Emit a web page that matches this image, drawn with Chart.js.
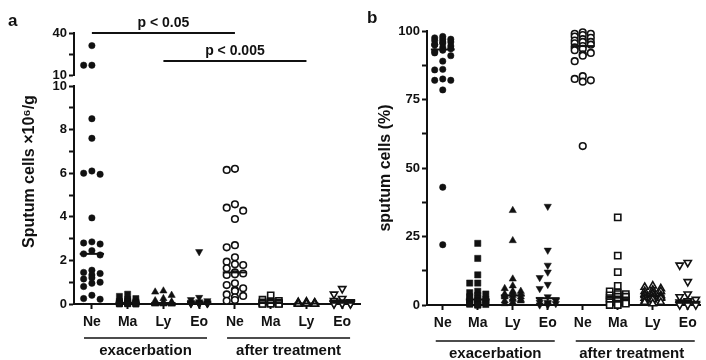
<!DOCTYPE html>
<html><head><meta charset="utf-8">
<script src="https://cdn.jsdelivr.net/npm/chart.js@4.4.1/dist/chart.umd.min.js"></script>
<style>
html,body{margin:0;padding:0;background:#fff;width:706px;height:360px;overflow:hidden}
#ca{position:absolute;left:0;top:0}
#cb{position:absolute;left:366px;top:0}
</style></head><body>
<canvas id="ca" width="366" height="360"></canvas>
<canvas id="cb" width="340" height="360"></canvas>
<script>
// ---------- data ----------
const CATEGORIES = ['Ne','Ma','Ly','Eo','Ne','Ma','Ly','Eo'];
const GROUPS = ['exacerbation','after treatment'];
const A_TICKS_LOW = [0,2,4,6,8,10];
const A_TICKS_HIGH = [10,40];
const B_TICKS = [0,25,50,75,100];
const TITLE_A = 'Sputum cells \u00d710\u2076/g';
const TITLE_B = 'sputum cells (%)';
const BRACKETS_A = [
  {from:0, to:4, text:'p < 0.05', level:40},
  {from:2, to:6, text:'p < 0.005', level:20}
];

// Panel a: sputum cells x10^6/g
const A_NE_EXAC  = [31, 17, 17, 8.5, 7.6, 6.1, 6.0, 5.95, 3.95, 2.85, 2.8, 2.75, 2.45, 2.3, 2.25, 1.55, 1.45, 1.4, 1.33, 1.2, 1.15, 1.0, 0.95, 0.8, 0.4, 0.25, 0.22];
const A_MA_EXAC  = [0.45, 0.35, 0.25, 0.2, 0.15, 0.12, 0.1, 0.1, 0.08, 0.06, 0.05, 0.05, 0.04, 0.03, 0.02, 0.02, 0.01, 0.01, 0, 0];
const A_LY_EXAC  = [0.6, 0.55, 0.4, 0.25, 0.15, 0.1, 0.08, 0.06, 0.05, 0.04, 0.03, 0.03, 0.02, 0.02, 0.01, 0.01, 0, 0];
const A_EO_EXAC  = [2.4, 0.3, 0.2, 0.15, 0.1, 0.08, 0.06, 0.05, 0.04, 0.03, 0.02, 0.02, 0.01, 0.01, 0, 0, 0];
const A_NE_AFTER = [6.2, 6.15, 4.57, 4.42, 4.28, 3.9, 2.7, 2.6, 2.14, 1.94, 1.82, 1.79, 1.64, 1.45, 1.4, 1.36, 1.33, 0.95, 0.87, 0.72, 0.64, 0.6, 0.44, 0.37, 0.31, 0.18, 0.15];
const A_MA_AFTER = [0.4, 0.2, 0.15, 0.12, 0.1, 0.08, 0.06, 0.05, 0.04, 0.03, 0.02, 0.02, 0.01, 0.01, 0, 0];
const A_LY_AFTER = [0.1, 0.08, 0.06, 0.05, 0.04, 0.03, 0.02, 0.02, 0.01, 0.01, 0, 0];
const A_EO_AFTER = [0.7, 0.45, 0.25, 0.15, 0.1, 0.08, 0.06, 0.05, 0.04, 0.03, 0.02, 0.01, 0, 0];

// Panel b: sputum cells (%)
const B_NE_EXAC  = [98, 97.5, 97, 97, 96.5, 96, 96, 95.5, 95, 95, 94.5, 94, 93.5, 93, 92.5, 92, 91, 89, 86, 85.8, 82.5, 82, 82, 78.5, 43, 22];
const B_MA_EXAC  = [22.5, 17, 11, 8, 8, 5, 4.5, 4, 3.5, 3, 2.5, 2, 2, 1.5, 1.5, 1, 1, 0.8, 0.5, 0.5, 0.3, 0.2, 0, 0];
const B_LY_EXAC  = [34.5, 23.5, 9.5, 7, 6, 5, 5, 4.5, 4, 4, 3.5, 3.5, 3, 3, 2.5, 2, 2, 1.5, 1.5, 1, 0.5];
const B_EO_EXAC  = [36, 20, 14.5, 12, 10, 7.5, 6, 3, 2, 1.5, 1, 1, 0.5, 0.5, 0, 0];
const B_NE_AFTER = [99.5, 99, 99, 98.5, 98, 97.5, 97, 96.5, 96, 96, 95.5, 95, 94.5, 94, 93.5, 93, 92, 91.5, 91, 89, 83.5, 82.5, 82, 81.5, 58];
const B_MA_AFTER = [32, 18, 12, 7, 5, 4.5, 4, 4, 3.5, 3, 3, 2.5, 2, 2, 1.5, 1.5, 1, 1, 0.5, 0.5, 0, 0];
const B_LY_AFTER = [7, 6.5, 6, 5.5, 5, 5, 4.5, 4, 4, 3.5, 3.5, 3, 3, 2.5, 2.5, 2, 2, 1.5, 1, 1, 0.5];
const B_EO_AFTER = [15.5, 14.5, 8.5, 4, 3, 2, 1.5, 1, 1, 0.5, 0.5, 0.5, 0, 0, 0];

const SERIES_A = [A_NE_EXAC, A_MA_EXAC, A_LY_EXAC, A_EO_EXAC, A_NE_AFTER, A_MA_AFTER, A_LY_AFTER, A_EO_AFTER];
const SERIES_B = [B_NE_EXAC, B_MA_EXAC, B_LY_EXAC, B_EO_EXAC, B_NE_AFTER, B_MA_AFTER, B_LY_AFTER, B_EO_AFTER];

// ---------- helpers ----------
const FONT = "'Liberation Sans', Arial, Helvetica, sans-serif";
const INK = '#111';

function median(a){const s=[...a].sort((p,q)=>p-q);const n=s.length;return n%2?s[(n-1)/2]:(s[n/2-1]+s[n/2])/2;}

// simple beeswarm dodge: points closer than thr (value units) go side by side
const SLOTS = [0, -1, 1, -0.5, 0.5, -1.5, 1.5];
function swarm(values, center, thr, step){
  const order = values.map((v,i)=>i).sort((a,b)=>values[b]-values[a]);
  const placed=[]; const xs=new Array(values.length);
  for(const i of order){
    const v=values[i]; let chosen=null, best=Infinity, bestSlot=0;
    for(const s of SLOTS){
      const c=placed.filter(p=>Math.abs(p.s-s)<0.9 && Math.abs(p.v-v)<thr).length;
      if(c===0){chosen=s;break;}
      if(c<best){best=c;bestSlot=s;}
    }
    if(chosen===null) chosen=bestSlot;
    placed.push({v,s:chosen}); xs[i]=center+chosen*step;
  }
  return xs;
}

function markerStyle(i, big){
  const kind = i%4; const filled = i<4;
  const st = {
    pointStyle: kind===0?'circle':(kind===1?'rect':'triangle'),
    rotation: kind===3?180:0,
    radius: kind===0?(filled?3.2:3.3):(kind===1?(big?4.4:4.3):4.2),
  };
  return {
    pointStyle: st.pointStyle, pointRotation: st.rotation, pointRadius: st.radius, pointHoverRadius: st.radius,
    pointBackgroundColor: filled?INK:'#fff', pointBorderColor: INK, pointBorderWidth: filled?0.5:1.6,
    showLine:false, clip:false
  };
}

function medianSet(i, vals, yAxisID, half){
  const m = median(vals);
  return {type:'line', data:[{x:i-half,y:m},{x:i+half,y:m}], borderColor:INK, borderWidth:2,
    pointRadius:0, yAxisID, xAxisID:'x', order:-1, clip:false, showLine:true};
}

const tickFont = {family:FONT, size:13, weight:'bold'};
const catFont = {family:FONT, size:14, weight:'bold'};
const grpFont = {family:FONT, size:15, weight:'bold'};

function xScales(min, max, xh, gh, gpad){
  return {
    x: {type:'linear', position:'bottom', min, max,
      afterBuildTicks: s => { s.ticks = CATEGORIES.map((c,i)=>({value:i})); },
      afterFit: s => { s.height = xh; },
      ticks:{autoSkip:false, callback: v => CATEGORIES[v] ?? '', font:catFont, color:INK, padding:5, maxRotation:0},
      grid:{drawOnChartArea:false, drawTicks:true, tickLength:5, tickWidth:2, tickColor:INK},
      border:{display:true, width:2, color:INK}
    },
    xg: {type:'category', labels:GROUPS, position:'bottom', offset:true,
      afterFit: s => { s.height = gh; },
      ticks:{font:grpFont, color:INK, padding:gpad, maxRotation:0},
      grid:{display:false, drawTicks:false}, border:{display:false}
    }
  };
}

function yTickCommon(labels, w){
  return {
    afterFit: s => { s.width = w; },
    ticks:{autoSkip:false, font:tickFont, color:INK, padding:2,
      callback: v => labels.includes(v) ? String(v) : ''},
    grid:{drawOnChartArea:false, drawTicks:true, tickLength:5, tickWidth:2, tickColor:INK},
    border:{display:true, width:2, color:INK}
  };
}

function drawGroupLines(ctx, x, y, half){
  ctx.lineWidth=1.5; ctx.strokeStyle=INK;
  GROUPS.forEach((g,gi)=>{
    const c=1.5+4*gi;
    ctx.beginPath(); ctx.moveTo(x.getPixelForValue(c-half), y); ctx.lineTo(x.getPixelForValue(c+half), y); ctx.stroke();
  });
}
function drawVTitle(ctx, text, cx, cy, size){
  ctx.save(); ctx.translate(cx, cy); ctx.rotate(-Math.PI/2);
  ctx.font = `bold ${size}px ${FONT}`; ctx.textAlign='center'; ctx.textBaseline='middle'; ctx.fillStyle=INK;
  ctx.fillText(text,0,0); ctx.restore();
}

// ---------- panel a ----------
const LOW_MAX = 10;
const dsA = [];
SERIES_A.forEach((vals,i)=>{
  const low = vals.filter(v=>v<=LOW_MAX), high = vals.filter(v=>v>LOW_MAX);
  const xl = swarm(low, i, 0.3, 0.23);
  dsA.push(Object.assign({data: low.map((v,k)=>({x:xl[k], y:v})), yAxisID:'yLow', xAxisID:'x', order:1}, markerStyle(i,false)));
  if(high.length){
    const xh = swarm(high, i, 4.5, 0.23);
    dsA.push(Object.assign({data: high.map((v,k)=>({x:xh[k], y:v})), yAxisID:'yHigh', xAxisID:'x', order:1}, markerStyle(i,false)));
  }
  dsA.push(medianSet(i, vals, 'yLow', 0.34));
});

const decorA = {
  id:'decorA',
  afterDraw(chart){
    const {ctx, scales} = chart; const x=scales.x, yh=scales.yHigh, yl=scales.yLow, xg=scales.xg;
    ctx.save(); ctx.fillStyle=INK; ctx.strokeStyle=INK;
    ctx.lineWidth=2; ctx.font=`bold 14px ${FONT}`; ctx.textAlign='center'; ctx.textBaseline='bottom';
    BRACKETS_A.forEach(b=>{
      const y=Math.round(yh.getPixelForValue(b.level));
      const x1=x.getPixelForValue(b.from), x2=x.getPixelForValue(b.to);
      ctx.beginPath(); ctx.moveTo(x1,y); ctx.lineTo(x2,y); ctx.stroke();
      ctx.fillText(b.text,(x1+x2)/2,y-3);
    });
    drawGroupLines(ctx, x, xg.top+2, 1.72);
    drawVTitle(ctx, TITLE_A, 30, (yh.top+yl.bottom)/2+3, 16);
    ctx.font=`bold 17px ${FONT}`; ctx.textAlign='left'; ctx.textBaseline='middle'; ctx.fillStyle=INK;
    ctx.fillText('a', 8, 21);
    ctx.restore();
  }
};

new Chart(document.getElementById('ca'), {
  type:'scatter',
  data:{datasets: dsA},
  options:{
    responsive:false, animation:false, events:[],
    layout:{padding:{top:33, right:4, left:0, bottom:0}},
    plugins:{legend:{display:false}, tooltip:{enabled:false}},
    scales: Object.assign({
      yLow: Object.assign({type:'linear', position:'left', stack:'a', stackWeight:218, min:0, max:LOW_MAX,
        afterBuildTicks: s => { const t=[]; for(let v=0; v<=LOW_MAX; v++) t.push({value:v}); s.ticks=t; }}, yTickCommon(A_TICKS_LOW, 74)),
      yGap: {type:'linear', position:'left', stack:'a', stackWeight:11, min:0, max:1,
        afterFit: s => { s.width = 74; }, ticks:{display:false}, grid:{display:false, drawTicks:false}, border:{display:false}},
      yHigh: Object.assign({type:'linear', position:'left', stack:'a', stackWeight:42, min:10, max:40,
        afterBuildTicks: s => { s.ticks = [10,25,40].map(v=>({value:v})); }}, yTickCommon(A_TICKS_HIGH, 74))
    }, xScales(-0.5, 7.5, 32, 24, 6))
  },
  plugins:[decorA]
});

// ---------- panel b ----------
const dsB = [];
SERIES_B.forEach((vals,i)=>{
  const xs = swarm(vals, i, 2.4, 0.23);
  dsB.push(Object.assign({data: vals.map((v,k)=>({x:xs[k], y:v})), yAxisID:'y', xAxisID:'x', order:1}, markerStyle(i,true)));
  dsB.push(medianSet(i, vals, 'y', 0.34));
});

const decorB = {
  id:'decorB',
  afterDraw(chart){
    const {ctx, scales} = chart; const x=scales.x, y=scales.y, xg=scales.xg;
    ctx.save(); ctx.fillStyle=INK; ctx.strokeStyle=INK;
    drawGroupLines(ctx, x, xg.top+2, 1.7);
    drawVTitle(ctx, TITLE_B, 20, (y.top+y.bottom)/2, 16);
    ctx.font=`bold 17px ${FONT}`; ctx.textAlign='left'; ctx.textBaseline='middle'; ctx.fillStyle=INK;
    ctx.fillText('b', 1, 18);
    ctx.restore();
  }
};

new Chart(document.getElementById('cb'), {
  type:'scatter',
  data:{datasets: dsB},
  options:{
    responsive:false, animation:false, events:[],
    layout:{padding:{top:31, right:0, left:0, bottom:0}},
    plugins:{legend:{display:false}, tooltip:{enabled:false}},
    scales: Object.assign({
      y: Object.assign({type:'linear', position:'left', min:0, max:100,
        afterBuildTicks: s => { const t=[]; for(let v=0; v<=100; v+=12.5) t.push({value:v}); s.ticks=t; }}, yTickCommon(B_TICKS, 61))
    }, xScales(-0.45, 7.35, 34, 21, 6))
  },
  plugins:[decorB]
});
</script>
</body></html>
